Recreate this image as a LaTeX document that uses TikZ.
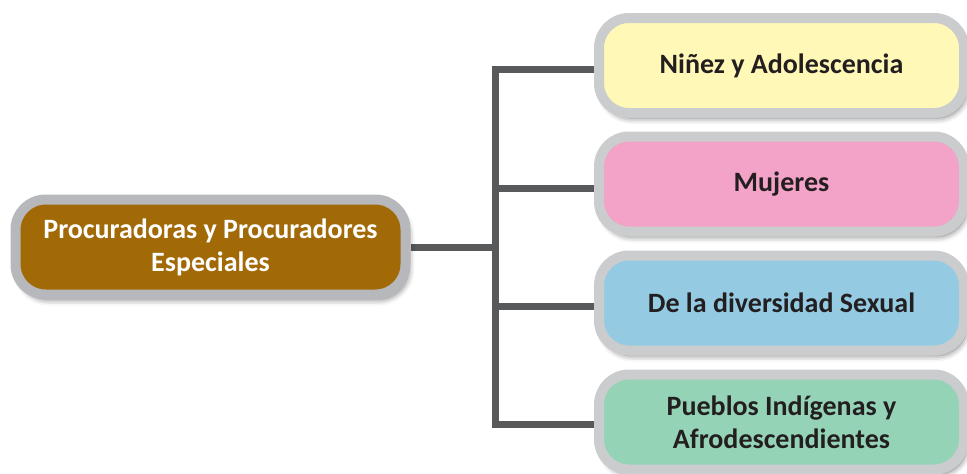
\documentclass[tikz,border=0pt]{standalone}
\usepackage{fontspec}
\setmainfont{Carlito}
\usetikzlibrary{shadows.blur,backgrounds}
\definecolor{brownfill}{HTML}{A26A06}
\definecolor{yellowfill}{HTML}{FFF8B6}
\definecolor{pinkfill}{HTML}{F2A3C7}
\definecolor{bluefill}{HTML}{94CBE3}
\definecolor{greenfill}{HTML}{95D3B7}
\definecolor{rimgray}{HTML}{CBCCCE}
\definecolor{rimdark}{HTML}{B7B8BB}
\definecolor{linegray}{HTML}{58595B}
\definecolor{textdark}{HTML}{231F20}
\tikzset{
  box/.style={draw=rimgray, line width=10pt, rounded corners=30pt, inner sep=0pt,
    align=center, font=\fontsize{28}{33}\selectfont\bfseries, text=textdark,
    blur shadow={shadow xshift=3pt, shadow yshift=-5pt, shadow blur radius=6pt, shadow opacity=55}},
  rbox/.style={box, minimum width=365pt, minimum height=95pt},
  lbox/.style={box, draw=rimdark, fill=brownfill, text=white, minimum width=390pt, minimum height=95pt},
  conn/.style={draw=linegray, line width=7pt}
}
\begin{document}
\begin{tikzpicture}[x=1pt,y=-1pt]
\useasboundingbox (0,0) rectangle (967,474);
\node[lbox] (L) at (210.5,247) {Procuradoras y Procuradores\\Especiales};
\node[rbox, fill=yellowfill] (n1) at (781.5,65.5) {Niñez y Adolescencia};
\node[rbox, fill=pinkfill] (n2) at (781.5,184) {Mujeres};
\node[rbox, fill=bluefill] (n3) at (781.5,303) {De la diversidad Sexual};
\node[rbox, fill=greenfill] (n4) at (781.5,422) {Pueblos Indígenas y\\Afrodescendientes};
\coordinate (jn) at (495,247);
\begin{scope}[on background layer]
\draw[conn] (L.east) -- (jn);
\draw[conn] (jn) |- ([yshift=-4pt]n1.west);
\draw[conn] (jn) |- ([yshift=-4pt]n2.west);
\draw[conn] (jn) |- ([yshift=-3pt]n3.west);
\draw[conn] (jn) |- ([yshift=-2pt]n4.west);
\end{scope}
\end{tikzpicture}
\end{document}
